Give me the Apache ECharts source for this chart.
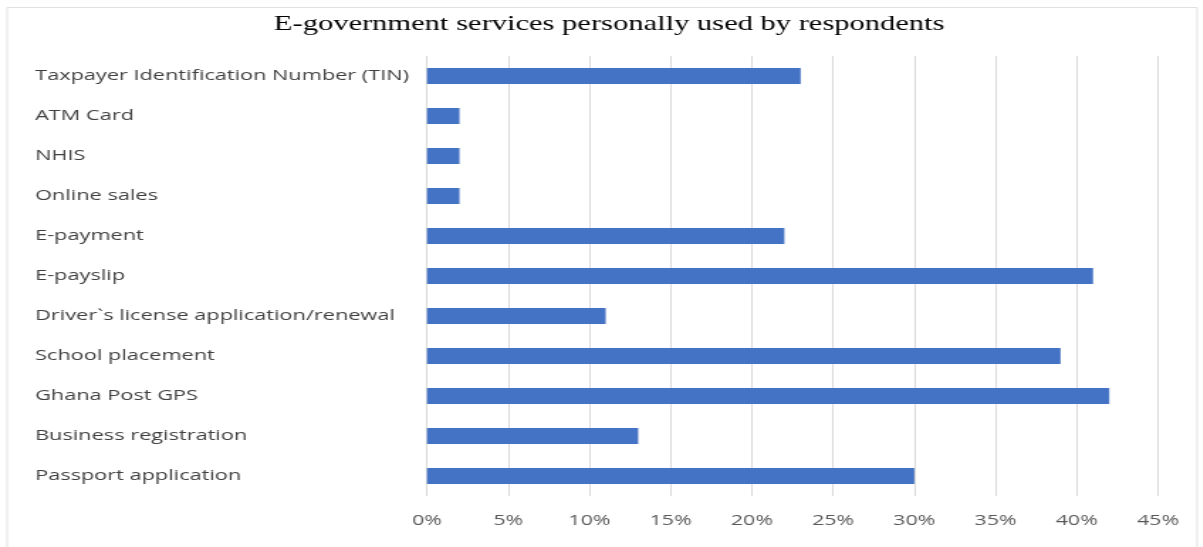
<!DOCTYPE html>
<html>
<head>
<meta charset="utf-8">
<script src="https://cdn.jsdelivr.net/npm/echarts@6/dist/echarts.min.js"></script>
<style>
  html, body { margin: 0; padding: 0; background: #fff; overflow: hidden; }
  /* the source picture is stretched sideways, so the chart is drawn narrower and widened */
  #chart { width: 847px; height: 547px; transform: scaleX(1.42); transform-origin: 0 0; }
</style>
</head>
<body>
<div id="chart"></div>
<script>
// categories top to bottom
const services = [
    "Taxpayer Identification Number (TIN)",
    "ATM Card",
    "NHIS",
    "Online sales",
    "E-payment",
    "E-payslip",
    "Driver`s license application/renewal",
    "School placement",
    "Ghana Post GPS",
    "Business registration",
    "Passport application"
]
const percentUsed = [23, 2, 2, 2, 22, 41, 11, 39, 42, 13, 30]

const chart = echarts.init(document.getElementById("chart"))

chart.setOption({
    animation: false,
    title: {
        text: "E-government services personally used by respondents",
        left: 424,
        textAlign: "center",
        top: 8,
        textStyle: {
            fontFamily: "Liberation Serif",
            fontSize: 21.5,
            fontWeight: "normal",
            color: "#000"
        }
    },
    graphic: [{
        type: "rect",
        shape: { x: 5, y: 7.5, width: 838, height: 570 },
        style: { fill: "none", stroke: "#d9d9d9", lineWidth: 0.8 },
        silent: true
    }],
    grid: { left: 300.7, right: 31.5, top: 56, bottom: 51 },
    xAxis: {
        type: "value",
        min: 0,
        max: 45,
        interval: 5,
        axisLine: { show: false },
        axisTick: { show: false },
        splitLine: { lineStyle: { color: "#d9d9d9", width: 1 } },
        axisLabel: {
            formatter: "{value}%",
            color: "#595959",
            fontFamily: "Open Sans",
            fontSize: 15,
            margin: 17
        }
    },
    yAxis: {
        type: "category",
        data: services,
        inverse: true,
        axisLine: { show: false },
        axisTick: { show: false },
        axisLabel: {
            align: "left",
            margin: 276,
            color: "#404040",
            fontFamily: "Open Sans",
            fontSize: 15.3
        }
    },
    series: [{
        type: "bar",
        data: percentUsed,
        barWidth: 16,
        itemStyle: { color: "#4472C4" }
    }]
})
</script>
</body>
</html>
